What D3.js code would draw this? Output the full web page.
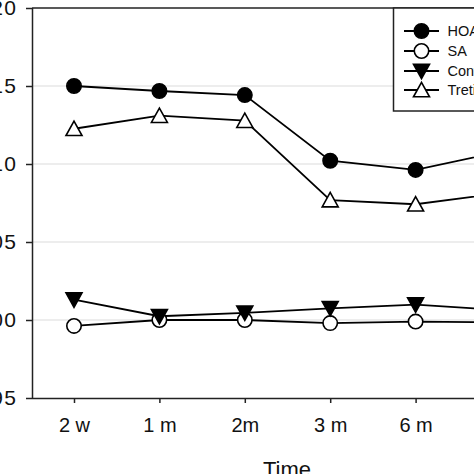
<!DOCTYPE html>
<html><head><meta charset="utf-8">
<script src="https://cdn.jsdelivr.net/npm/d3@7"></script>
<style>
html,body{margin:0;padding:0;background:#fff;overflow:hidden;}
text{font-family:"Liberation Sans",Arial,sans-serif;}
</style></head>
<body>
<script>
const categories = ["2 w", "1 m", "2m", "3 m", "6 m", "12 m"];
const hoa   = [115.0, 114.68, 114.42, 110.21, 109.62, 110.8];
const sa    = [99.62, 100.0, 100.0, 99.8, 99.9, 99.85];
const ctrl  = [101.3, 100.24, 100.46, 100.75, 100.98, 100.64];
const tret  = [112.26, 113.1, 112.78, 107.69, 107.42, 108.13];
const yTicks = [95, 100, 105, 110, 115, 120];
const seriesNames = ["HOA", "SA", "Control", "Tretinoin"];

(function () {
const W = 474, H = 474;
const svg = d3.select("body").append("svg").attr("width", W).attr("height", H);

const pLeft = 32, pTop = 8, pBottom = 398, pRight = 560;
const x = d3.scalePoint().domain(categories).range([74, 74 + 5 * 85.4]);
const y = d3.scaleLinear().domain([95, 120]).range([pBottom, pTop]);

// grid lines
svg.append("g").selectAll("line").data(yTicks.filter(d => d > 95 && d < 120)).join("line")
  .attr("x1", pLeft).attr("x2", pRight).attr("y1", d => y(d)).attr("y2", d => y(d))
  .attr("stroke", "#dcdcdc").attr("stroke-width", 1.2);

// frame top
svg.append("line").attr("x1", pLeft).attr("x2", pRight).attr("y1", pTop).attr("y2", pTop)
  .attr("stroke", "#222").attr("stroke-width", 1.5);

// axes
const yAxis = svg.append("g").attr("transform", `translate(${pLeft},0)`)
  .call(d3.axisLeft(y).tickValues(yTicks).tickSize(6).tickPadding(8.5).tickFormat(d3.format("d")));
const xAxis = svg.append("g").attr("transform", `translate(0,${pBottom})`)
  .call(d3.axisBottom(x).tickSize(5).tickPadding(15));
xAxis.select(".domain").attr("d", `M${pLeft},0.5H${pRight}`);
yAxis.select(".domain").attr("d", `M0.5,${pTop}V${pBottom}`);
[xAxis, yAxis].forEach(g => {
  g.selectAll(".domain").attr("stroke", "#222").attr("stroke-width", 1.5);
  g.selectAll(".tick line").attr("stroke", "#222").attr("stroke-width", 1.5);
  g.selectAll("text").attr("fill", "#111")
    .style("font-family", '"Liberation Sans",Arial,sans-serif');
});
xAxis.selectAll("text").attr("font-size", 20);
yAxis.selectAll("text").attr("font-size", 21).style("letter-spacing", "1.5px");

// axis title
svg.append("text").attr("x", 287).attr("y", 477).attr("text-anchor", "middle")
  .attr("font-size", 22).attr("fill", "#111").text("Time");

function drawMarker(g, type, cx, cy) {
  if (type === "fcircle" || type === "ocircle") {
    g.append("circle").attr("cx", cx).attr("cy", cy).attr("r", 7.2)
      .attr("fill", type === "fcircle" ? "#000" : "#fff").attr("stroke", "#000").attr("stroke-width", 1.6);
  } else {
    const s = 8;
    const pts = type === "ftri"
      ? [[cx - s, cy - s * 0.85], [cx + s, cy - s * 0.85], [cx, cy + s * 0.95]]
      : [[cx - s, cy + s * 0.85], [cx + s, cy + s * 0.85], [cx, cy - s * 0.95]];
    g.append("path").attr("d", "M" + pts.map(p => p.join(",")).join("L") + "Z")
      .attr("fill", type === "ftri" ? "#000" : "#fff").attr("stroke", "#000").attr("stroke-width", 1.6);
  }
}

const series = [
  {vals: hoa, type: "fcircle"},
  {vals: sa, type: "ocircle"},
  {vals: ctrl, type: "ftri"},
  {vals: tret, type: "otri"}
];
const line = d3.line().x((d, i) => x(categories[i])).y(d => y(d));
const plot = svg.append("g");
series.forEach(s => {
  plot.append("path").attr("d", line(s.vals)).attr("fill", "none")
    .attr("stroke", "#000").attr("stroke-width", 1.8);
});
series.forEach(s => {
  const g = plot.append("g");
  s.vals.forEach((v, i) => drawMarker(g, s.type, x(categories[i]), y(v)));
});

// legend
const lg = svg.append("g");
lg.append("rect").attr("x", 393.5).attr("y", pTop).attr("width", 200).attr("height", 103)
  .attr("fill", "#fff").attr("stroke", "#222").attr("stroke-width", 1.5);
const rowsY = [31, 51, 71, 90];
seriesNames.forEach((name, i) => {
  const yy = rowsY[i];
  lg.append("line").attr("x1", 404).attr("x2", 439).attr("y1", yy).attr("y2", yy)
    .attr("stroke", "#000").attr("stroke-width", 1.8);
  drawMarker(lg, series[i].type, 421.5, yy);
  lg.append("text").attr("x", 447.5).attr("y", yy + 5).attr("font-size", 14.5)
    .attr("fill", "#111").text(name);
});
})();
</script>
</body></html>
